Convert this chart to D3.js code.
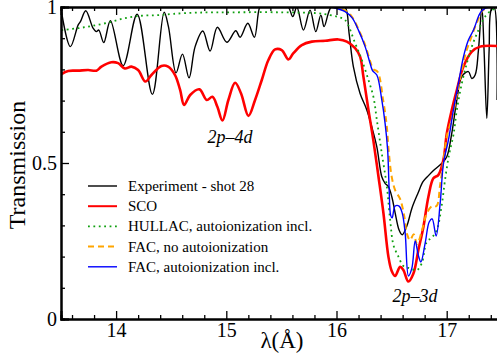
<!DOCTYPE html>
<html>
<head>
<meta charset="utf-8">
<script src="https://cdn.jsdelivr.net/npm/d3@7"></script>
<style>
  body { margin: 0; background: #fff; }
  svg { display: block; }
  text { font-family: "Liberation Serif", "Times New Roman", serif; }
</style>
</head>
<body>
<div id="chart"></div>
<script>
// wavelength (Angstrom) vs transmission
var experiment = [
  [13.504,0.985],[13.585,0.873],[13.655,0.942],[13.676,0.953],[13.725,0.988],[13.791,0.932],
  [13.821,0.921],[13.843,0.926],[13.888,0.886],[13.948,0.956],[14.064,0.812],[14.191,0.977],
  [14.329,0.720],[14.436,0.983],[14.475,0.937],[14.544,0.789],[14.602,0.849],[14.662,0.773],
  [14.717,0.873],[14.787,0.923],[14.853,0.859],[14.919,0.935],[15.005,0.887],[15.086,0.924],
  [15.125,0.903],[15.195,0.948],[15.255,0.903],[15.300,0.996],[15.330,1.01],[15.45,1.01],
  [15.561,1.0],[15.603,0.969],[15.640,1.0],[15.700,0.926],[15.760,0.990],[15.812,0.921],
  [15.858,0.974],[15.887,0.937],[15.926,0.980],[15.951,1.0],[16.00,1.01],[16.078,1.0],
  [16.114,0.916],[16.153,0.809],[16.214,0.723],[16.275,0.670],[16.320,0.616],[16.366,0.552],
  [16.411,0.456],[16.441,0.435],[16.471,0.424],[16.502,0.392],[16.532,0.340],[16.568,0.285],
  [16.596,0.270],[16.640,0.300],[16.685,0.356],[16.740,0.404],[16.785,0.440],[16.830,0.458],
  [16.880,0.476],[16.956,0.499],[17.001,0.520],[17.046,0.595],[17.092,0.702],[17.137,0.777],
  [17.197,0.793],[17.228,0.771],[17.258,0.782],[17.288,0.862],[17.319,1.0],[17.339,0.862],
  [17.364,0.643],[17.385,0.862],[17.403,0.990],[17.430,1.0],[17.457,0.702]
];

var sco = [
  [13.504,0.785],[13.565,0.795],[13.655,0.796],[13.746,0.798],[13.821,0.796],[13.867,0.809],
  [13.957,0.823],[14.018,0.820],[14.079,0.803],[14.139,0.809],[14.200,0.798],[14.266,0.761],
  [14.321,0.782],[14.411,0.811],[14.472,0.809],[14.535,0.782],[14.581,0.734],[14.617,0.686],
  [14.672,0.718],[14.756,0.736],[14.823,0.702],[14.874,0.712],[14.919,0.680],[14.965,0.636],
  [15.019,0.702],[15.080,0.757],[15.134,0.723],[15.201,0.651],[15.261,0.702],[15.322,0.766],
  [15.382,0.830],[15.443,0.864],[15.503,0.862],[15.564,0.832],[15.609,0.852],[15.685,0.878],
  [15.776,0.889],[15.897,0.892],[16.017,0.896],[16.094,0.889],[16.169,0.868],[16.214,0.841],
  [16.244,0.777],[16.290,0.670],[16.335,0.571],[16.381,0.456],[16.426,0.339],[16.471,0.200],
  [16.500,0.155],[16.532,0.138],[16.577,0.167],[16.607,0.157],[16.652,0.120],[16.698,0.146],
  [16.743,0.221],[16.789,0.296],[16.834,0.392],[16.879,0.451],[16.925,0.462],[16.970,0.510],
  [17.001,0.595],[17.046,0.670],[17.092,0.734],[17.152,0.809],[17.228,0.857],[17.303,0.873],
  [17.457,0.875]
];

var hullac = [
  [13.504,0.926],[13.655,0.932],[13.776,0.939],[13.927,0.950],[14.079,0.964],[14.230,0.972],
  [14.381,0.974],[14.517,0.978],[14.744,0.982],[15.053,0.983],[15.488,0.983],[15.824,0.980],
  [15.942,0.974],[16.015,0.968],[16.078,0.958],[16.169,0.884],[16.230,0.830],[16.290,0.766],
  [16.335,0.712],[16.366,0.638],[16.411,0.531],[16.457,0.424],[16.487,0.317],[16.517,0.237],
  [16.563,0.199],[16.607,0.170],[16.668,0.162],[16.731,0.157],[16.774,0.179],[16.819,0.247],
  [16.865,0.261],[16.910,0.285],[16.955,0.365],[16.985,0.446],[17.021,0.526],[17.061,0.590],
  [17.092,0.670],[17.137,0.755],[17.183,0.820],[17.228,0.873],[17.288,0.926],[17.348,0.969],
  [17.409,0.990],[17.457,0.995]
];

var facNoAuto = [
  [15.957,1.0],[16.087,0.987],[16.142,0.968],[16.199,0.929],[16.260,0.878],[16.305,0.827],
  [16.333,0.801],[16.373,0.792],[16.423,0.702],[16.455,0.622],[16.473,0.542],[16.500,0.458],
  [16.532,0.413],[16.577,0.385],[16.613,0.333],[16.640,0.272],[16.668,0.253],[16.700,0.272],
  [16.731,0.240],[16.772,0.279],[16.817,0.337],[16.868,0.362],[16.908,0.362],[16.940,0.429],
  [16.972,0.510],[17.004,0.590],[17.049,0.644],[17.092,0.718],[17.137,0.798],[17.176,0.856],
  [17.221,0.901],[17.276,0.952],[17.330,0.990],[17.394,1.0]
];

var facAuto = [
  [15.957,1.0],[16.078,0.985],[16.142,0.965],[16.199,0.926],[16.260,0.873],[16.305,0.819],
  [16.327,0.796],[16.366,0.782],[16.411,0.702],[16.441,0.627],[16.464,0.542],[16.478,0.413],
  [16.491,0.333],[16.505,0.324],[16.532,0.362],[16.568,0.362],[16.596,0.340],[16.623,0.276],
  [16.653,0.138],[16.684,0.163],[16.714,0.250],[16.744,0.202],[16.766,0.183],[16.805,0.244],
  [16.841,0.311],[16.868,0.321],[16.904,0.266],[16.941,0.372],[16.971,0.500],[17.016,0.574],
  [17.061,0.670],[17.107,0.756],[17.152,0.840],[17.197,0.894],[17.243,0.926],[17.303,0.980],
  [17.348,0.996],[17.457,1.0]
];

var xMajor = [14, 15, 16, 17]
var yMajor = [0, 0.5, 1]

var series = [
  {name: "Experiment - shot 28", data: experiment, color: "#000", width: 1.4, dash: null},
  {name: "SCO", data: sco, color: "#ff0000", width: 2.6, dash: null},
  {name: "HULLAC, autoionization incl.", data: hullac, color: "#10a010", width: 1.8, dash: "1.8,3.6"},
  {name: "FAC, no autoionization", data: facNoAuto, color: "#ffa500", width: 2, dash: "6,4"},
  {name: "FAC, autoionization incl.", data: facAuto, color: "#0000ff", width: 1.4, dash: null}
]

var W = 497, H = 356
var mLeft = 61, mTop = 7, mBottom = 319

var x = d3.scaleLinear().domain([13.5, 17.5]).range([mLeft, mLeft + 4 * 110.2])
var y = d3.scaleLinear().domain([0, 1]).range([mBottom, mTop])

var svg = d3.select("#chart").append("svg").attr("width", W).attr("height", H)

svg.append("clipPath").attr("id", "plot")
  .append("rect").attr("x", mLeft).attr("y", mTop).attr("width", x(17.5) - mLeft).attr("height", mBottom - mTop)

var line = d3.line()
  .x(d => x(d[0]))
  .y(d => y(d[1]))
  .curve(d3.curveCatmullRom.alpha(0.5))

svg.append("g").attr("clip-path", "url(#plot)")
  .selectAll("path")
  .data(series)
  .enter().append("path")
  .attr("fill", "none")
  .attr("stroke", d => d.color)
  .attr("stroke-width", d => d.width)
  .attr("stroke-dasharray", d => d.dash)
  .attr("d", d => line(d.data))

// axes, ticks pointing inward
var xMinor = d3.range(13.6, 17.5, 0.2).filter(v => Math.abs(v - Math.round(v)) > 0.01)
var yMinor = d3.range(0.1, 1, 0.1).filter(v => Math.abs(v - 0.5) > 0.01)

function styleAxis(g) {
  g.select(".domain").attr("stroke-width", 2)
  g.selectAll(".tick line").attr("stroke-width", 1.3)
  g.selectAll("text").attr("font-size", 20).attr("fill", "#000")
}

svg.append("g").attr("transform", `translate(0,${mBottom})`)
  .call(d3.axisBottom(x).tickValues(xMajor).tickSize(-8).tickPadding(4).tickFormat(d3.format("d")))
  .call(styleAxis)
svg.append("g").attr("transform", `translate(0,${mBottom})`)
  .call(d3.axisBottom(x).tickValues(xMinor).tickSize(-4).tickFormat(""))
  .call(styleAxis)

svg.append("g").attr("transform", `translate(0,${mTop})`)
  .call(d3.axisTop(x).tickValues(xMajor).tickSize(-8).tickFormat(""))
  .call(styleAxis)
svg.append("g").attr("transform", `translate(0,${mTop})`)
  .call(d3.axisTop(x).tickValues(xMinor).tickSize(-4).tickFormat(""))
  .call(styleAxis)

svg.append("g").attr("transform", `translate(${mLeft},0)`)
  .call(d3.axisLeft(y).tickValues(yMajor).tickSize(-8).tickPadding(4).tickFormat(d => d == 0.5 ? "0.5" : d3.format("d")(d)))
  .call(styleAxis)
svg.append("g").attr("transform", `translate(${mLeft},0)`)
  .call(d3.axisLeft(y).tickValues(yMinor).tickSize(-4).tickFormat(""))
  .call(styleAxis)

// axis titles
svg.append("text")
  .attr("transform", `translate(25,${(mTop + mBottom) / 2 + 2}) rotate(-90)`)
  .attr("text-anchor", "middle")
  .attr("font-size", 24)
  .text("Transmission")

svg.append("text")
  .attr("x", 282).attr("y", 348)
  .attr("text-anchor", "middle")
  .attr("font-size", 23)
  .text("λ(Å)")

// line labels
svg.append("text").attr("x", 230).attr("y", 143).attr("text-anchor", "middle")
  .attr("font-size", 18).attr("font-style", "italic").text("2p–4d")
svg.append("text").attr("x", 415).attr("y", 302).attr("text-anchor", "middle")
  .attr("font-size", 18).attr("font-style", "italic").text("2p–3d")

// legend
var legend = svg.append("g").selectAll("g")
  .data(series)
  .enter().append("g")
  .attr("transform", (d, i) => `translate(88,${186 + i * 20.2})`)

legend.append("line")
  .attr("x1", 0).attr("x2", 29)
  .attr("stroke", d => d.color)
  .attr("stroke-width", d => Math.min(d.width, 2))
  .attr("stroke-dasharray", d => d.dash)

legend.append("text")
  .attr("x", 40).attr("dy", "0.33em")
  .attr("font-size", 15)
  .text(d => d.name)
</script>
</body>
</html>
